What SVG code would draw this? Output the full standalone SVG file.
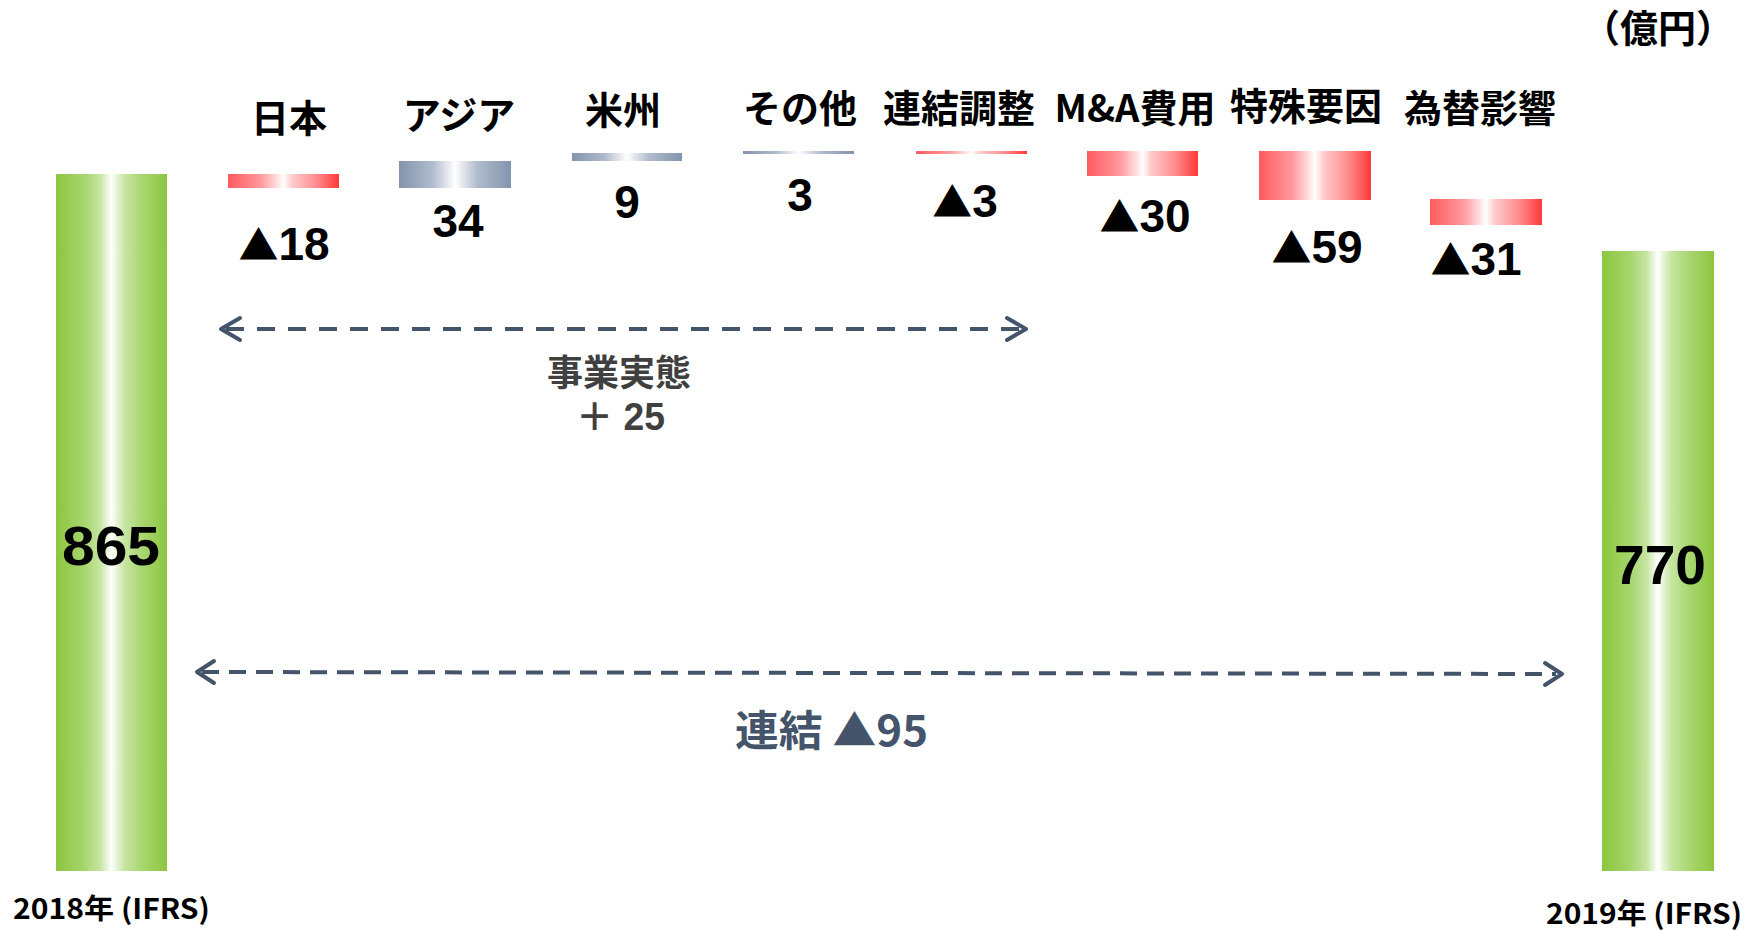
<svg xmlns="http://www.w3.org/2000/svg" width="1762" height="930" viewBox="0 0 1762 930">
<defs>
<linearGradient id="gGreen" x1="0" y1="0" x2="1" y2="0">
<stop offset="0" stop-color="#8CC63E"/><stop offset="0.25" stop-color="#A6D56C"/><stop offset="0.4" stop-color="#C6E5A0"/><stop offset="0.46" stop-color="#EAF5DD"/><stop offset="0.5" stop-color="#FFFFFF"/><stop offset="0.55" stop-color="#E6F3D6"/><stop offset="0.62" stop-color="#C6E5A0"/><stop offset="0.78" stop-color="#A8D66F"/><stop offset="1" stop-color="#8CC63E"/>
</linearGradient>
<linearGradient id="gRed" x1="0" y1="0" x2="1" y2="0">
<stop offset="0" stop-color="#FF5A5F"/><stop offset="0.3" stop-color="#FF9A9D"/><stop offset="0.45" stop-color="#FFE2E2"/><stop offset="0.5" stop-color="#FFFFFF"/><stop offset="0.58" stop-color="#FFCACA"/><stop offset="0.8" stop-color="#FF8A8C"/><stop offset="1" stop-color="#FF3838"/>
</linearGradient>
<linearGradient id="gBlue" x1="0" y1="0" x2="1" y2="0">
<stop offset="0" stop-color="#8394AE"/><stop offset="0.3" stop-color="#B0BBCC"/><stop offset="0.5" stop-color="#FFFFFF"/><stop offset="0.7" stop-color="#B0BBCC"/><stop offset="1" stop-color="#8394AE"/>
</linearGradient>
</defs>
<style>
.hd{font-family:"Noto Sans CJK JP","Liberation Sans",sans-serif;font-weight:700;font-size:38px;fill:#000;text-anchor:middle}
.val{font-family:"Liberation Sans","Noto Sans CJK JP",sans-serif;font-weight:700;font-size:46px;fill:#000;text-anchor:middle}
.tri{font-family:"Noto Sans CJK JP",sans-serif;font-size:40px}
.big{font-family:"Liberation Sans","Noto Sans CJK JP",sans-serif;font-weight:700;font-size:56px;fill:#000}
.yr{font-family:"Noto Sans CJK JP","Liberation Sans",sans-serif;font-weight:700;font-size:28px;fill:#000}
.dash{fill:none;stroke:#44546A;stroke-width:4}
.chev{fill:none;stroke:#44546A;stroke-width:4;stroke-linecap:round;stroke-linejoin:round}
</style>
<rect width="1762" height="930" fill="#FFFFFF"/>

<g id="unit"><text class="hd" x="1658" y="42" font-size="36">（億円）</text></g>

<g id="start-2018">
<rect x="56" y="174" width="111" height="697" fill="url(#gGreen)"/>
<text class="big" x="62" y="565" textLength="98" lengthAdjust="spacingAndGlyphs">865</text>
<text class="yr" x="13" y="919" textLength="197" lengthAdjust="spacingAndGlyphs">2018年 (IFRS)</text>
</g>

<g id="japan">
<text class="hd" x="289" y="132">日本</text>
<rect x="228" y="174" width="111" height="14" fill="url(#gRed)"/>
<text class="val" x="284" y="260"><tspan class="tri">▲</tspan>18</text>
</g>

<g id="asia">
<text class="hd" x="459" y="129">アジア</text>
<rect x="399" y="161" width="112" height="27" fill="url(#gBlue)"/>
<text class="val" x="458" y="237">34</text>
</g>

<g id="americas">
<text class="hd" x="623" y="124">米州</text>
<rect x="572" y="153" width="110" height="8" fill="url(#gBlue)"/>
<text class="val" x="627" y="218">9</text>
</g>

<g id="other">
<text class="hd" x="800" y="122">その他</text>
<rect x="743" y="151" width="111" height="3" fill="url(#gBlue)"/>
<text class="val" x="800" y="211">3</text>
</g>

<g id="consolidation-adj">
<text class="hd" x="959" y="122">連結調整</text>
<rect x="916" y="151" width="111" height="3" fill="url(#gRed)"/>
<text class="val" x="965" y="217"><tspan class="tri">▲</tspan>3</text>
</g>

<g id="ma-cost">
<text class="hd" x="1135" y="122">M&amp;A費用</text>
<rect x="1087" y="151" width="111" height="25" fill="url(#gRed)"/>
<text class="val" x="1145" y="232"><tspan class="tri">▲</tspan>30</text>
</g>

<g id="special">
<text class="hd" x="1306" y="120">特殊要因</text>
<rect x="1259" y="151" width="112" height="49" fill="url(#gRed)"/>
<text class="val" x="1317" y="263"><tspan class="tri">▲</tspan>59</text>
</g>

<g id="fx">
<text class="hd" x="1480" y="122">為替影響</text>
<rect x="1430" y="199" width="112" height="26" fill="url(#gRed)"/>
<text class="val" x="1476" y="275"><tspan class="tri">▲</tspan>31</text>
</g>

<g id="end-2019">
<rect x="1602" y="251" width="112" height="620" fill="url(#gGreen)"/>
<text class="big" x="1614" y="584" textLength="92" lengthAdjust="spacingAndGlyphs">770</text>
<text class="yr" x="1546" y="924" textLength="196" lengthAdjust="spacingAndGlyphs">2019年 (IFRS)</text>
</g>

<g id="connectors">
<line class="dash" x1="226" y1="329" x2="1020" y2="329" stroke-dasharray="18 13"/>
<polyline class="chev" points="240,318 221,329 240,340"/>
<polyline class="chev" points="1007,318 1026,329 1007,340"/>
<line class="dash" x1="202" y1="672" x2="1556" y2="674" stroke-width="3.5" stroke-dasharray="17 10"/>
<polyline class="chev" points="214,661 197,672 214,683"/>
<polyline class="chev" points="1545,663 1562,674 1545,685"/>
</g>

<g id="business-label">
<text x="619" y="386" font-family="Noto Sans CJK JP, sans-serif" font-weight="700" font-size="36" fill="#404040" text-anchor="middle">事業実態</text>
<text x="576" y="430" font-family="Liberation Sans, Noto Sans CJK JP, sans-serif" font-weight="700" font-size="38" fill="#404040" textLength="89" lengthAdjust="spacingAndGlyphs">＋ 25</text>
</g>

<g id="consolidated-label">
<text x="735" y="746" font-family="Noto Sans CJK JP, Liberation Sans, sans-serif" font-weight="700" font-size="42" fill="#44546A" textLength="193" lengthAdjust="spacingAndGlyphs">連結 ▲95</text>
</g>
</svg>
